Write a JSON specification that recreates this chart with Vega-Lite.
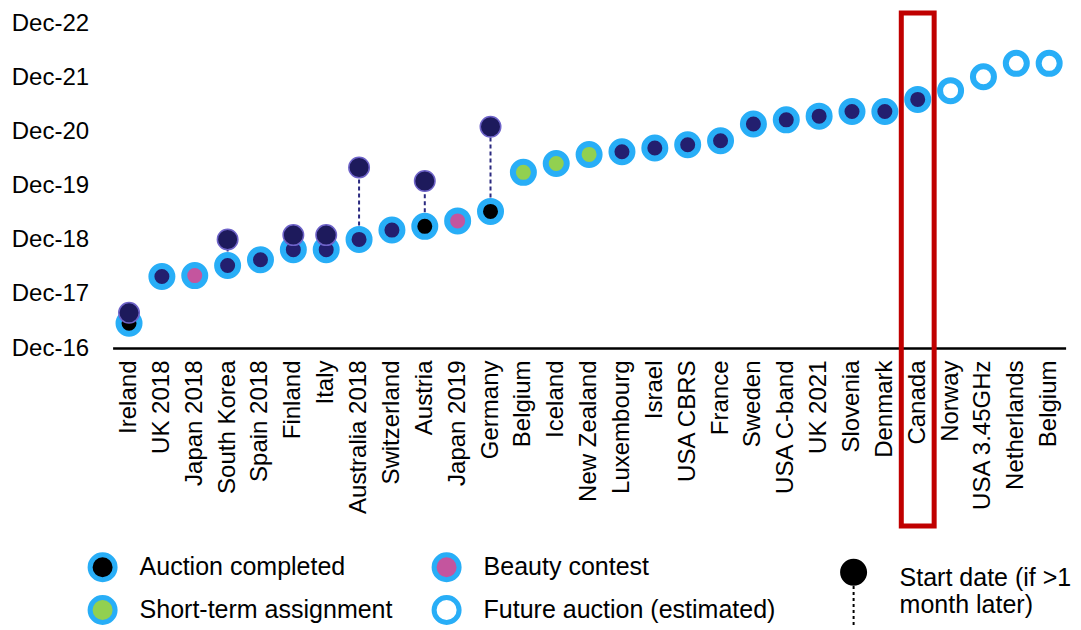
{
  "$schema": "https://vega.github.io/schema/vega-lite/v6.json",
  "autosize": {"type": "none"},
  "padding": {"left": 112.6, "top": 23, "right": 15.4, "bottom": 282},
  "width": 953,
  "height": 325,
  "background": "#ffffff",
  "config": {
    "view": {"stroke": null},
    "font": "Liberation Sans",
    "axis": {"labelFont": "Liberation Sans", "labelColor": "#000000", "title": null, "grid": false, "ticks": false},
    "legend": {"labelFont": "Liberation Sans", "labelColor": "#000000", "labelFontSize": 25, "padding": 0, "labelLimit": 400}
  },
  "datasets": {
    "auctions": [
      {"key": "Ireland", "status": "Auction completed, start deferred", "date": "2017-05-17", "start": "2017-07-26"},
      {"key": "UK 2018", "status": "Auction completed", "date": "2018-03-28"},
      {"key": "Japan 2018", "status": "Beauty contest", "date": "2018-04-03"},
      {"key": "South Korea", "status": "Auction completed", "date": "2018-06-10", "start": "2018-12-03"},
      {"key": "Spain 2018", "status": "Auction completed", "date": "2018-07-19"},
      {"key": "Finland", "status": "Auction completed", "date": "2018-09-25", "start": "2019-01-01"},
      {"key": "Italy", "status": "Auction completed", "date": "2018-09-25", "start": "2019-01-01"},
      {"key": "Australia 2018", "status": "Auction completed", "date": "2018-12-03", "start": "2020-04-01"},
      {"key": "Switzerland", "status": "Auction completed", "date": "2019-02-04"},
      {"key": "Austria", "status": "Auction completed, start deferred", "date": "2019-03-01", "start": "2020-01-01"},
      {"key": "Japan 2019", "status": "Beauty contest", "date": "2019-04-07"},
      {"key": "Germany", "status": "Auction completed, start deferred", "date": "2019-06-10", "start": "2021-01-01"},
      {"key": "Belgium", "status": "Short-term assignment", "date": "2020-02-28"},
      {"key": "Iceland", "status": "Short-term assignment", "date": "2020-04-28"},
      {"key": "New Zealand", "status": "Short-term assignment", "date": "2020-06-28"},
      {"key": "Luxembourg", "status": "Auction completed", "date": "2020-07-16"},
      {"key": "Israel", "status": "Auction completed", "date": "2020-08-10"},
      {"key": "USA CBRS", "status": "Auction completed", "date": "2020-09-01"},
      {"key": "France", "status": "Auction completed", "date": "2020-09-28"},
      {"key": "Sweden", "status": "Auction completed", "date": "2021-01-19"},
      {"key": "USA C-band", "status": "Auction completed", "date": "2021-02-16"},
      {"key": "UK 2021", "status": "Auction completed", "date": "2021-03-13"},
      {"key": "Slovenia", "status": "Auction completed", "date": "2021-04-13"},
      {"key": "Denmark", "status": "Auction completed", "date": "2021-04-13"},
      {"key": "Canada", "status": "Auction completed", "date": "2021-07-04"},
      {"key": "Norway", "status": "Future auction (estimated)", "date": "2021-09-01"},
      {"key": "USA 3.45GHz", "status": "Future auction (estimated)", "date": "2021-12-04"},
      {"key": "Netherlands", "status": "Future auction (estimated)", "date": "2022-03-04"},
      {"key": "Belgium (future)", "status": "Future auction (estimated)", "date": "2022-03-04"}
    ],
    "highlight": [
      {"key": "Canada", "top": "2023-02-06", "bottom": "2013-08-19"}
    ]
  },
  "encoding": {
    "x": {
      "field": "key",
      "type": "nominal",
      "scale": {
        "type": "band",
        "paddingInner": 0,
        "paddingOuter": 0,
        "domain": ["Ireland", "UK 2018", "Japan 2018", "South Korea", "Spain 2018", "Finland", "Italy", "Australia 2018", "Switzerland", "Austria", "Japan 2019", "Germany", "Belgium", "Iceland", "New Zealand", "Luxembourg", "Israel", "USA CBRS", "France", "Sweden", "USA C-band", "UK 2021", "Slovenia", "Denmark", "Canada", "Norway", "USA 3.45GHz", "Netherlands", "Belgium (future)"]
      },
      "axis": {
        "labelAngle": -90,
        "labelFontSize": 24,
        "labelPadding": 12,
        "labelOverlap": false,
        "domain": true,
        "domainColor": "#000000",
        "domainWidth": 2.5,
        "labelExpr": "replace(datum.label, ' (future)', '')"
      }
    }
  },
  "layer": [
    {
      "data": {"name": "auctions"},
      "transform": [{"filter": "isValid(datum.start)"}],
      "mark": {"type": "rule", "color": "#2B2A80", "strokeWidth": 2},
      "encoding": {
        "y": {
          "field": "date",
          "type": "temporal",
          "scale": {"domain": [{"year": 2016, "month": 12, "date": 1}, {"year": 2022, "month": 12, "date": 1}]},
          "axis": {
            "format": "%b-%y",
            "labelFontSize": 24,
            "labelPadding": 24,
            "labelOverlap": false,
            "domain": false,
            "values": [
              {"year": 2016, "month": 12, "date": 1},
              {"year": 2017, "month": 12, "date": 1},
              {"year": 2018, "month": 12, "date": 1},
              {"year": 2019, "month": 12, "date": 1},
              {"year": 2020, "month": 12, "date": 1},
              {"year": 2021, "month": 12, "date": 1},
              {"year": 2022, "month": 12, "date": 1}
            ]
          }
        },
        "y2": {"field": "start"},
        "strokeDash": {
          "datum": "Start date (if >1 month later)",
          "scale": {"range": [[4, 3]]},
          "legend": {
            "title": null,
            "orient": "none",
            "legendX": 709,
            "legendY": 523,
            "symbolSize": 4096,
            "symbolType": "M-0.422,-0.18A0.422,0.422,0,1,1,0.422,-0.18A0.422,0.422,0,1,1,-0.422,-0.18Z M-0.031,0.2475h0.062v0.094h-0.062Z M-0.031,0.435h0.062v0.094h-0.062Z M-0.031,0.6225h0.062v0.094h-0.062Z M-0.031,0.81h0.062v0.094h-0.062Z M-0.031,0.9975h0.062v0.094h-0.062Z M-0.031,1.185h0.062v0.094h-0.062Z M-0.031,1.3725h0.062v0.094h-0.062Z",
            "symbolFillColor": "#000000",
            "symbolStrokeWidth": 0,
            "labelOffset": 14,
            "labelExpr": "['Start date (if >1', 'month later)']",
            "encode": {
              "symbols": {"update": {"fill": {"value": "#000000"}, "strokeWidth": {"value": 0}}},
              "labels": {"update": {"lineHeight": {"value": 28}}}
            }
          }
        }
      }
    },
    {
      "data": {"name": "auctions"},
      "mark": {"type": "point", "shape": "circle", "filled": true, "opacity": 1, "size": 441, "stroke": "#28AEF7", "strokeWidth": 6},
      "encoding": {
        "y": {"field": "date", "type": "temporal"},
        "fill": {
          "field": "status",
          "type": "nominal",
          "scale": {
            "domain": ["Auction completed", "Beauty contest", "Short-term assignment", "Future auction (estimated)", "Auction completed, start deferred"],
            "range": ["#231F6F", "#C4559E", "#92D050", "#FFFFFF", "#000000"]
          },
          "legend": {
            "title": null,
            "orient": "none",
            "legendX": -25,
            "legendY": 529,
            "direction": "horizontal",
            "columns": 2,
            "values": ["Auction completed, start deferred", "Beauty contest", "Short-term assignment", "Future auction (estimated)"],
            "labelExpr": "datum.label === 'Auction completed, start deferred' ? 'Auction completed' : datum.label",
            "symbolType": "circle",
            "symbolSize": 625,
            "symbolStrokeWidth": 5,
            "symbolStrokeColor": "#28AEF7",
            "labelOffset": 22,
            "rowPadding": -3,
            "columnPadding": 31,
            "encode": {
              "symbols": {
                "update": {
                  "stroke": {"value": "#28AEF7"},
                  "strokeWidth": {"value": 5},
                  "opacity": {"value": 1}
                }
              }
            }
          }
        }
      }
    },
    {
      "data": {"name": "auctions"},
      "transform": [{"filter": "isValid(datum.start)"}],
      "mark": {"type": "point", "shape": "circle", "filled": true, "opacity": 1, "size": 420, "fill": "#1D1A5C", "stroke": "#6E63C8", "strokeWidth": 1.5},
      "encoding": {
        "y": {"field": "start", "type": "temporal"}
      }
    },
    {
      "data": {"name": "highlight"},
      "mark": {"type": "rect", "fill": null, "fillOpacity": 0, "stroke": "#C00000", "strokeWidth": 5, "clip": false},
      "encoding": {
        "y": {"field": "top", "type": "temporal"},
        "y2": {"field": "bottom"}
      }
    }
  ]
}
